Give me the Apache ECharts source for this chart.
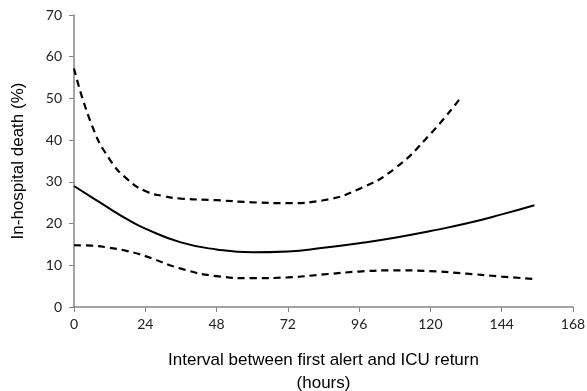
<!DOCTYPE html>
<html>
<head>
<meta charset="utf-8">
<script src="https://cdn.jsdelivr.net/npm/echarts@6/dist/echarts.min.js"></script>
<style>
 html, body { margin: 0; padding: 0; background: #fff; }
 #chart { width: 587px; height: 391px; }
</style>
</head>
<body>
<div id="chart"></div>
<script>
// hours since first alert, in-hospital death (%)
var estimate = [[0, 29], [6, 26.3], [12, 23.6], [18, 21], [24, 18.8], [36, 15.5], [48, 13.8], [60, 13.1], [72, 13.3],
    [84, 14.2], [96, 15.3], [108, 16.6], [120, 18.2], [132, 20], [144, 22.2], [155, 24.4]]
var upperCI = [[0, 57.2], [6, 43.6], [12, 35.4], [18, 30.6], [24, 27.8], [30, 26.6], [36, 26], [48, 25.6],
    [60, 25.1], [72, 24.9], [84, 25.6], [96, 28.3], [108, 33.2], [120, 41.5], [130, 50]]
var lowerCI = [[0, 14.8], [6, 14.7], [12, 14.2], [18, 13.4], [24, 12.2], [36, 9.2], [48, 7.4], [60, 6.9], [72, 7.1],
    [84, 7.8], [96, 8.5], [108, 8.8], [120, 8.6], [132, 8], [144, 7.3], [155, 6.7]]
var xTicks = [0, 24, 48, 72, 96, 120, 144, 168]
var yTicks = [0, 10, 20, 30, 40, 50, 60, 70]

var axisColor = '#868686'
var tickFont = { color: '#222', fontFamily: 'Lato', fontSize: 14 }

var option = {
    animation: false,
    grid: { left: 74, right: 14, top: 15, bottom: 84, containLabel: false, outerBoundsMode: 'none' },
    xAxis: {
        type: 'value',
        min: xTicks[0],
        max: xTicks[xTicks.length - 1],
        interval: 24,
        name: 'Interval between first alert and ICU return\n(hours)',
        nameLocation: 'middle',
        nameGap: 42,
        nameTextStyle: { color: '#000', fontFamily: 'Liberation Sans', fontSize: 17, lineHeight: 23 },
        axisLine: { lineStyle: { color: axisColor, width: 1.5 } },
        axisTick: { show: true, length: 5, lineStyle: { color: axisColor } },
        axisLabel: Object.assign({ margin: 10 }, tickFont),
        splitLine: { show: false }
    },
    yAxis: {
        type: 'value',
        min: yTicks[0],
        max: yTicks[yTicks.length - 1],
        interval: 10,
        name: 'In-hospital death (%)',
        nameLocation: 'middle',
        nameGap: 47,
        nameTextStyle: { color: '#000', fontFamily: 'Liberation Sans', fontSize: 17 },
        axisLine: { show: true, lineStyle: { color: axisColor, width: 1.5 } },
        axisTick: { show: true, length: 5, lineStyle: { color: axisColor } },
        axisLabel: Object.assign({ margin: 12 }, tickFont),
        splitLine: { show: false }
    },
    series: [{
        name: 'estimate',
        type: 'line',
        data: estimate,
        smooth: true,
        showSymbol: false,
        lineStyle: { color: '#000', width: 2 }
    }, {
        name: 'upper',
        type: 'line',
        data: upperCI,
        smooth: true,
        showSymbol: false,
        lineStyle: { color: '#000', width: 2.2, type: [7, 5] }
    }, {
        name: 'lower',
        type: 'line',
        data: lowerCI,
        smooth: true,
        showSymbol: false,
        lineStyle: { color: '#000', width: 2.2, type: [7, 5] }
    }]
};
var myChart = echarts.init(document.getElementById('chart'));
myChart.setOption(option);
</script>
</body>
</html>
